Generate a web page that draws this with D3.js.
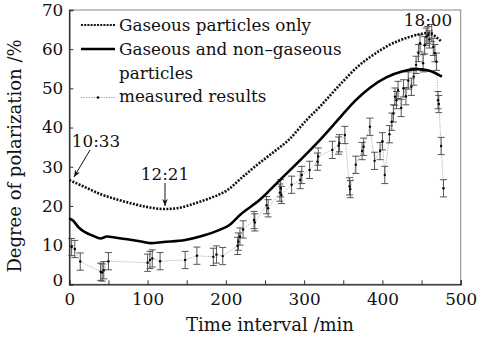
<html>
<script src="https://d3js.org/d3.v7.min.js"></script>
<style>
body {margin:0; background:#fff;}
text {font-family: "DejaVu Serif", serif; fill:#111;}
</style>
<body>
<svg width=479 height=338></svg>
<script>
// model curve: gaseous particles only
var gasX = [0,20,40,60,80,100,122,140,167,190,200,222,240,260,280,303,320,346,367,388,410,431,445,456,465,475];
var gasY = [26.6,24.8,23.0,21.7,20.6,19.7,19.2,19.5,21.1,22.8,23.8,27.5,30.5,33.6,36.8,41.9,45.3,51.0,55.3,58.5,61.2,62.9,63.7,64.1,63.6,62.0];

// model curve: gaseous and non-gaseous particles
var mixX = [0,5,12,20,30,40,48,60,80,95,104,120,148,167,192,205,218,243,269,295,320,346,365,385,405,425,445,460,476];
var mixY = [16.8,16.2,14.5,13.3,12.4,11.7,12.2,11.9,11.3,10.8,10.5,10.8,11.3,12.2,13.9,15.2,17.7,21.5,26.6,31.7,36.8,42.6,46.8,50.3,52.8,54.3,54.9,54.5,53.0];

// measured results
var measX = [3,7,14,40,42,44,50,100,103,106,116,148,163,184,188,196,215,216,218,222,236,237,252,254,269,270,271,284,295,297,307,317,318,336,344,345,352,358,359,366,374,376,384,390,397,400,403,409,412,414,416,418,420,424,427,430,433,437,440,443,446,448,452,454,456,458,460,463,465,467,469,471,472,475,478];
var measY = [9.5,9.0,5.8,3.2,3.0,3.6,5.9,5.5,6.2,6.6,5.9,6.2,7.3,7.0,7.6,7.2,9.8,10.9,12.2,14.0,16.4,15.8,20.2,19.4,23.4,24.5,22.8,25.4,26.6,27.9,29.2,31.3,32.6,34.3,35.4,36.0,38.1,25.0,24.3,30.5,34.0,35.1,40.2,31.5,34.0,36.5,27.9,38.3,41.5,43.6,47.9,47.0,49.6,45.0,50.0,48.0,52.0,50.4,53.0,56.0,59.0,61.5,56.4,61.0,63.2,63.6,62.5,64.1,60.6,59.0,56.8,47.0,46.0,35.3,24.5];
var measErr = 2.2;

var xTicks = [0,100,200,300,400,500];
var yTicks = [0,10,20,30,40,50,60,70];

var svg = d3.select("svg");
var pLeft = 69.3, pRight = 460.7, pTop = 10, pBottom = 284.3;

var x = d3.scaleLinear().domain([0,500]).range([pLeft,pRight]);
var y = d3.scaleLinear().domain([0,70]).range([pBottom,pTop]);

// frame
svg.append("rect").attr("x",pLeft).attr("y",pTop).attr("width",pRight-pLeft).attr("height",pBottom-pTop)
   .attr("fill","none").attr("stroke","#888").attr("stroke-width",1);

var xAxis = svg.append("g").attr("transform","translate(0,"+pBottom+")")
   .call(d3.axisBottom(x).tickValues(d3.range(0,501,50)).tickSize(-4).tickPadding(9)
     .tickFormat(function(d){ return xTicks.indexOf(d) >= 0 ? d : ""; }));
var yAxis = svg.append("g").attr("transform","translate("+pLeft+",0)")
   .call(d3.axisLeft(y).tickValues(yTicks).tickSize(-4).tickPadding(6));
[xAxis,yAxis].forEach(function(a){
  a.select(".domain").attr("stroke","#222").attr("stroke-width",1.3);
  a.selectAll(".tick line").attr("stroke","#333");
  a.selectAll("text").attr("font-size",16.8).attr("font-family","DejaVu Serif").attr("fill","#111");
});
yAxis.selectAll(".tick").filter(function(d){return d===0;}).select("text").attr("dy","0.1em");

// axis titles
svg.append("text").attr("x",270).attr("y",331).attr("text-anchor","middle")
   .attr("font-size",18).text("Time interval /min");
svg.append("text").attr("transform","translate(21,156) rotate(-90)").attr("text-anchor","middle")
   .attr("font-size",18).text("Degree of polarization /%");

var line = d3.line().x(function(d){return x(d[0]);}).y(function(d){return y(d[1]);}).curve(d3.curveMonotoneX);

// measured results
var meas = d3.zip(measX, measY);
svg.append("path").attr("d", d3.line().x(function(d){return x(d[0]);}).y(function(d){return y(d[1]);})(meas))
   .attr("fill","none").attr("stroke","#aaa").attr("stroke-width",0.8).attr("stroke-dasharray","1.5,1");
var eb = svg.append("g").attr("stroke","#444").attr("stroke-width",0.9);
meas.forEach(function(d){
  var cx = x(d[0]), y1 = y(d[1]-measErr), y2 = y(d[1]+measErr);
  eb.append("line").attr("x1",cx).attr("x2",cx).attr("y1",y1).attr("y2",y2);
  eb.append("line").attr("x1",cx-3.5).attr("x2",cx+3.5).attr("y1",y1).attr("y2",y1);
  eb.append("line").attr("x1",cx-3.5).attr("x2",cx+3.5).attr("y1",y2).attr("y2",y2);
});
svg.append("g").selectAll("circle").data(meas).enter().append("circle")
   .attr("cx",function(d){return x(d[0]);}).attr("cy",function(d){return y(d[1]);})
   .attr("r",1.2).attr("fill","#000");

// model curves
svg.append("path").attr("d", line(d3.zip(gasX,gasY))).attr("fill","none")
   .attr("stroke","#111").attr("stroke-width",2.6).attr("stroke-dasharray","2,1.4");
svg.append("path").attr("d", line(d3.zip(mixX,mixY))).attr("fill","none")
   .attr("stroke","#000").attr("stroke-width",2.6);

// legend
var lg = svg.append("g");
lg.append("line").attr("x1",81).attr("x2",115).attr("y1",25).attr("y2",25)
  .attr("stroke","#111").attr("stroke-width",2.2).attr("stroke-dasharray","2,1.2");
lg.append("line").attr("x1",81).attr("x2",115).attr("y1",49).attr("y2",49)
  .attr("stroke","#000").attr("stroke-width",2.4);
lg.append("line").attr("x1",81).attr("x2",115).attr("y1",97.5).attr("y2",97.5)
  .attr("stroke","#999").attr("stroke-width",0.8).attr("stroke-dasharray","1.5,1");
lg.append("circle").attr("cx",98).attr("cy",97.5).attr("r",1.3).attr("fill","#000");
[["Gaseous particles only",31],["Gaseous and non\u2013gaseous",55],["particles",79],["measured results",102]]
  .forEach(function(t){
    lg.append("text").attr("x",119).attr("y",t[1]).attr("font-size",16.8).text(t[0]);
  });

// annotations
var defs = svg.append("defs");
defs.append("marker").attr("id","ah").attr("viewBox","0 0 10 10").attr("refX",10).attr("refY",5)
  .attr("markerWidth",7).attr("markerHeight",7).attr("orient","auto")
  .append("path").attr("d","M0,1 L10,5 L0,9 L3,5 Z").attr("fill","#111");
svg.append("text").attr("x",96).attr("y",147).attr("text-anchor","middle").attr("font-size",16.8).text("10:33");
svg.append("line").attr("x1",90).attr("y1",150).attr("x2",74).attr("y2",177)
  .attr("stroke","#111").attr("stroke-width",1).attr("marker-end","url(#ah)");
svg.append("text").attr("x",165).attr("y",180).attr("text-anchor","middle").attr("font-size",16.8).text("12:21");
svg.append("line").attr("x1",165).attr("y1",183).attr("x2",165).attr("y2",206)
  .attr("stroke","#111").attr("stroke-width",1).attr("marker-end","url(#ah)");
svg.append("text").attr("x",428).attr("y",26).attr("text-anchor","middle").attr("font-size",16.8).text("18:00");
</script>
</body>
</html>
